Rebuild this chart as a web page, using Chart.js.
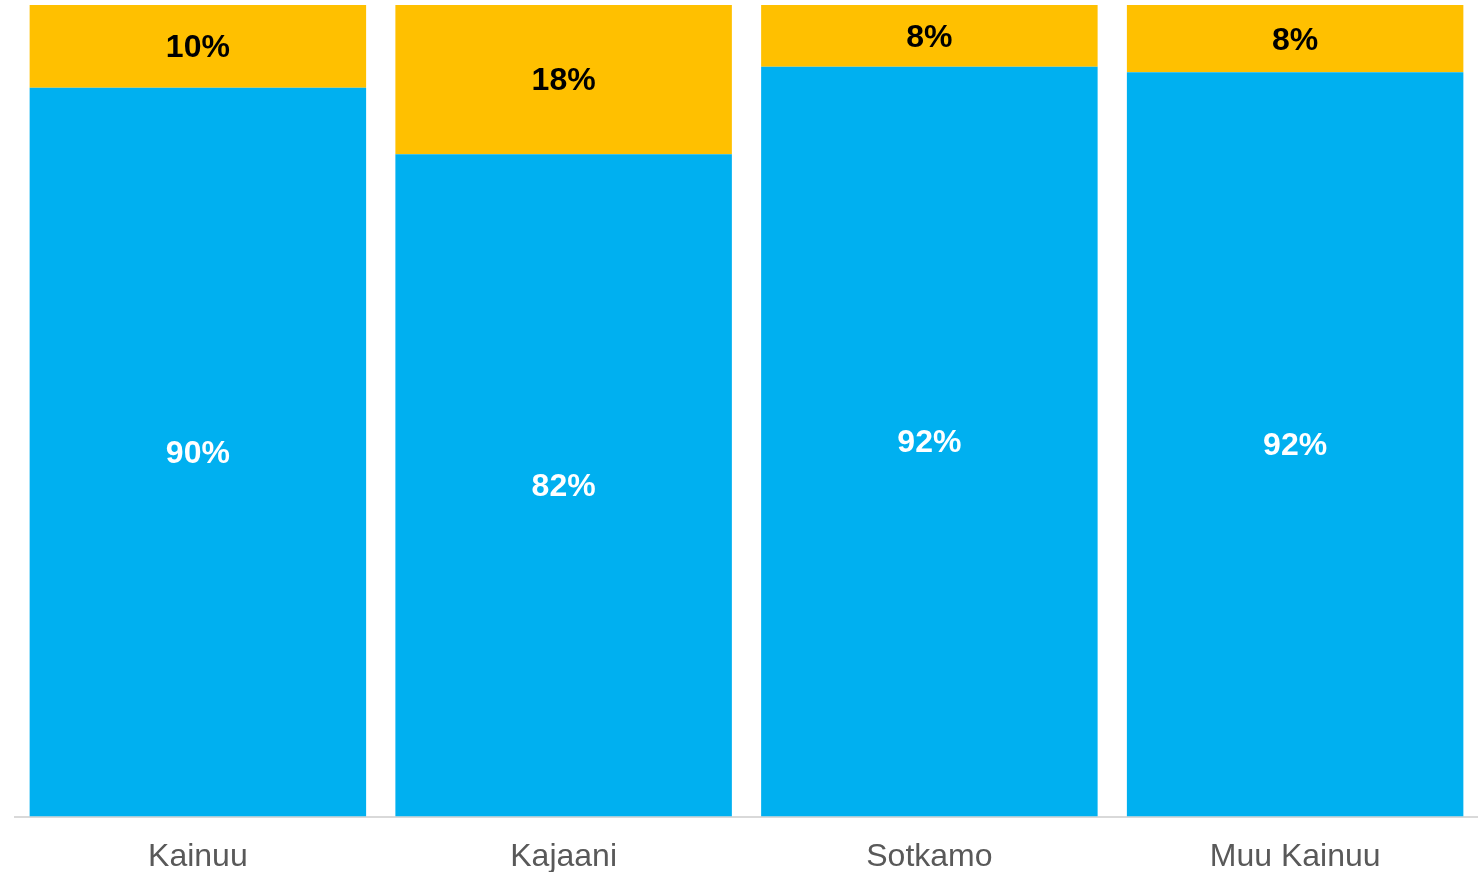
<!DOCTYPE html>
<html>
<head>
<meta charset="utf-8">
<script src="https://cdn.jsdelivr.net/npm/chart.js@4"></script>
<style>
  html, body { margin: 0; padding: 0; background: #fff; }
  #wrap { width: 1478px; height: 872px; }
</style>
</head>
<body>
<div id="wrap"><canvas id="chart" width="1478" height="872"></canvas></div>
<script>
// Alueet ja osuudet (%)
const alueet = ['Kainuu', 'Kajaani', 'Sotkamo', 'Muu Kainuu'];
const sarjaSininen = [89.8, 81.6, 92.4, 91.7];
const sarjaKeltainen = [10.2, 18.4, 7.6, 8.3];

// Arvojen piirto palkkien keskelle
const arvoPlugin = {
  id: 'arvot',
  afterDatasetsDraw(chart) {
    const ctx = chart.ctx;
    ctx.save();
    ctx.font = 'bold 32px "Liberation Sans", Arial, sans-serif';
    ctx.textAlign = 'center';
    ctx.textBaseline = 'middle';
    chart.data.datasets.forEach((ds, i) => {
      const meta = chart.getDatasetMeta(i);
      meta.data.forEach((bar, j) => {
        const y = (bar.y + bar.base) / 2;
        ctx.fillStyle = ds.labelColor;
        ctx.fillText(Math.round(ds.data[j]) + '%', bar.x, y + 2);
      });
    });
    ctx.restore();
  }
};

new Chart(document.getElementById('chart'), {
  type: 'bar',
  data: {
    labels: alueet,
    datasets: [
      {
        data: sarjaSininen,
        backgroundColor: '#00B0F0',
        labelColor: '#ffffff',
        barPercentage: 0.92,
        categoryPercentage: 1.0
      },
      {
        data: sarjaKeltainen,
        backgroundColor: '#FFC000',
        labelColor: '#000000',
        barPercentage: 0.92,
        categoryPercentage: 1.0
      }
    ]
  },
  options: {
    responsive: false,
    animation: false,
    layout: { padding: { left: 15, right: 0, top: 5, bottom: -17 } },
    plugins: {
      legend: { display: false },
      tooltip: { enabled: false }
    },
    scales: {
      x: {
        stacked: true,
        grid: { display: false },
        border: { color: '#d9d9d9', width: 2 },
        ticks: {
          color: '#595959',
          padding: 13,
          font: { family: '"Liberation Sans", Arial, sans-serif', size: 32 }
        }
      },
      y: {
        stacked: true,
        display: false,
        min: 0,
        max: 100
      }
    }
  },
  plugins: [arvoPlugin]
});
</script>
</body>
</html>
